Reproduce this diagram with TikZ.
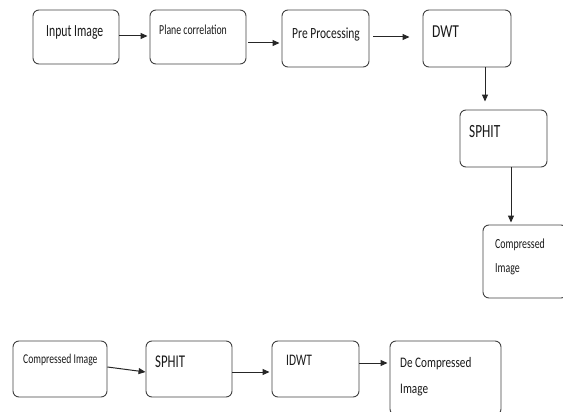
\documentclass[tikz,border=0pt]{standalone}
\usepackage{fontspec}
\setmainfont{Carlito}
\usetikzlibrary{arrows.meta,calc}
\newcommand\stretchtxt[2]{\scalebox{1}[#1]{#2}}
\begin{document}
\begin{tikzpicture}[x=1pt,y=-1pt,
  box/.style={draw=black!75,line width=0.9pt,rounded corners=6pt,minimum width=#1,inner sep=0pt},
  lbl/.style={anchor=west,inner sep=0pt,text=black!90},
  arr/.style={draw=black!85,line width=1pt,-{Triangle[length=7pt,width=6pt]}}]
\useasboundingbox (0,0) rectangle (563,412);
% top row boxes
\node[box=86pt,minimum height=54pt] (in) at (76,37) {};
\node[box=96pt,minimum height=54pt] (pc) at (198,37) {};
\node[box=87pt,minimum height=57pt] (pre) at (325.5,38.5) {};
\node[box=88pt,minimum height=57pt] (dwt) at (467,38.5) {};
\node[box=87pt,minimum height=57pt] (sp1) at (503.5,138.5) {};
\node[box=84pt,minimum height=73pt] (ci1) at (525,261.5) {};
% bottom row boxes
\node[box=94pt,minimum height=56pt] (ci2) at (60,369) {};
\node[box=86pt,minimum height=56pt] (sp2) at (189,369) {};
\node[box=87pt,minimum height=56pt] (idwt) at (315.5,369) {};
\node[box=111pt,minimum height=74pt] (dc) at (445.5,378) {};
% labels
\node[lbl,font=\fontsize{11.7}{13}\selectfont] (tin) at (46,33) {\stretchtxt{1.45}{Input Image}};
\node[lbl,font=\fontsize{9.8}{11}\selectfont] (tpc) at (159,30) {\stretchtxt{1.4}{Plane correlation}};
\node[lbl,font=\fontsize{11.5}{12}\selectfont] (tpre) at (292,34) {\stretchtxt{1.35}{Pre Processing}};
\node[lbl,font=\fontsize{13.5}{13}\selectfont] (tdwt) at (432,32) {\stretchtxt{1.35}{DWT}};
\node[lbl,font=\fontsize{13.3}{13}\selectfont] (tsp1) at (469,132) {\stretchtxt{1.4}{SPHIT}};
\node[lbl,font=\fontsize{9.9}{12}\selectfont] (tci1a) at (495,245) {\stretchtxt{1.4}{Compressed}};
\node[lbl,font=\fontsize{9.9}{12}\selectfont] (tci1b) at (495,269) {\stretchtxt{1.4}{Image}};
\node[lbl,font=\fontsize{9.6}{10}\selectfont] (tci2) at (23,360) {\stretchtxt{1.4}{Compressed Image}};
\node[lbl,font=\fontsize{12.8}{13}\selectfont] (tsp2) at (155,362) {\stretchtxt{1.4}{SPHIT}};
\node[lbl,font=\fontsize{11.5}{13}\selectfont] (tidwt) at (286,360) {\stretchtxt{1.4}{IDWT}};
\node[lbl,font=\fontsize{11.2}{13}\selectfont] (tdca) at (400,364) {\stretchtxt{1.3}{De Compressed}};
\node[lbl,font=\fontsize{11.2}{12}\selectfont] (tdcb) at (400,390) {\stretchtxt{1.3}{Image}};
% connectors
\draw[arr] (in.east |- 0,36) -- ($(pc.west |- 0,36)+(-2,0)$);
\draw[arr] ($(pc.east |- 0,43)+(2,0)$) -- ($(pre.west |- 0,43)+(-2,0)$);
\draw[arr] ($(pre.east |- 0,37)+(4,0)$) -- ($(dwt.west |- 0,37)+(-13,0)$);
\draw[arr] (dwt.south -| 485,0) -- ($(sp1.north -| 485,0)+(0,-8)$);
\draw[arr] (sp1.south -| 511,0) -- ($(ci1.north -| 511,0)+(0,-2)$);
\draw[arr] (ci2.east |- 0,367) -- (sp2.west |- 0,372);
\draw[arr] (sp2.east |- 0,372) -- ($(idwt.west |- 0,372)+(-2,0)$);
\draw[arr] (idwt.east |- 0,363) -- ($(dc.west |- 0,363)+(-2,0)$);
\end{tikzpicture}
\end{document}
